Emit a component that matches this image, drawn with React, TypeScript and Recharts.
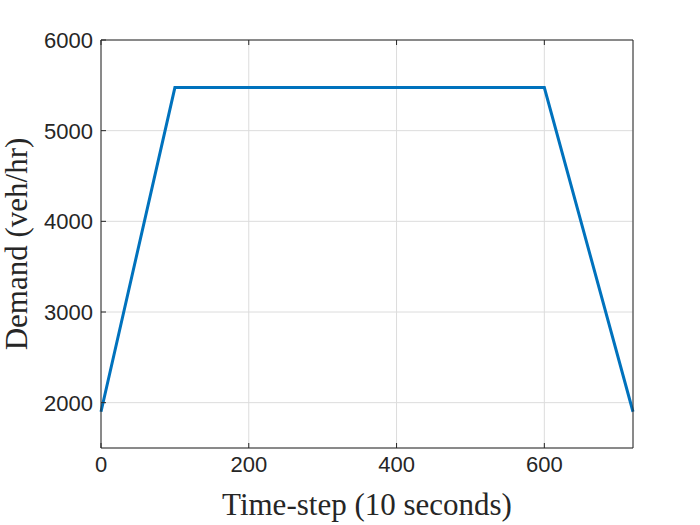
import { LineChart, Line, XAxis, YAxis, CartesianGrid } from "recharts";

const timeSteps = [0, 100, 600, 720];
const demand = [1900, 5475, 5475, 1900];
const xTicks = [0, 200, 400, 600];
const yTicks = [2000, 3000, 4000, 5000, 6000];

const data = timeSteps.map((t, i) => ({ t, demand: demand[i] }));

const axisColor = "#262626";
const tickFont = "'Liberation Sans', Arial, sans-serif";
const labelFont = "'Liberation Serif', 'DejaVu Serif', serif";

const XTick = (props: any) => {
  const { x, y, payload } = props;
  return (
    <g>
      <line x1={x} x2={x} y1={y - 8} y2={y - 13} stroke={axisColor} />
      <text x={x} y={y + 16} textAnchor="middle" fill={axisColor} fontSize={22} fontFamily={tickFont}>
        {payload.value}
      </text>
    </g>
  );
};

const YTick = (props: any) => {
  const { x, y, payload } = props;
  return (
    <g>
      <line x1={x + 8} x2={x + 13} y1={y} y2={y} stroke={axisColor} />
      <text x={x} y={y + 8} textAnchor="end" fill={axisColor} fontSize={22} fontFamily={tickFont}>
        {payload.value}
      </text>
    </g>
  );
};

const TopTick = (props: any) => {
  const { x, y } = props;
  return <line x1={x} x2={x} y1={y + 8} y2={y + 13} stroke={axisColor} />;
};

const RightTick = (props: any) => {
  const { x, y } = props;
  return <line x1={x - 8} x2={x - 13} y1={y} y2={y} stroke={axisColor} />;
};

export default function App() {
  return (
    <div style={{ position: "absolute", left: 0, top: 0, width: 700, height: 525, background: "#fff" }}>
      <LineChart width={700} height={525} data={data} margin={{ top: 0, right: 7, bottom: 0, left: 41 }}>
        <CartesianGrid xAxisId="b" yAxisId="l" stroke="#dcdcdc" />
        <XAxis
          xAxisId="b"
          dataKey="t"
          type="number"
          domain={[0, 720]}
          ticks={xTicks}
          height={77}
          tickSize={0}
          tickMargin={8}
          tick={<XTick />}
          axisLine={{ stroke: axisColor }}
          tickLine={false}
          label={{
            value: "Time-step (10 seconds)",
            position: "insideBottom",
            offset: 10,
            fill: axisColor,
            fontSize: 31,
            fontFamily: labelFont,
          }}
        />
        <XAxis
          xAxisId="t"
          orientation="top"
          dataKey="t"
          type="number"
          domain={[0, 720]}
          ticks={xTicks}
          height={40}
          tickSize={0}
          tickMargin={8}
          tick={<TopTick />}
          axisLine={{ stroke: axisColor }}
          tickLine={false}
        />
        <YAxis
          yAxisId="l"
          type="number"
          domain={[1500, 6000]}
          ticks={yTicks}
          width={60}
          tickSize={0}
          tickMargin={8}
          tick={<YTick />}
          axisLine={{ stroke: axisColor }}
          tickLine={false}
          label={{
            value: "Demand (veh/hr)",
            angle: -90,
            position: "insideLeft",
            offset: -25,
            style: { textAnchor: "middle" },
            fill: axisColor,
            fontSize: 31,
            fontFamily: labelFont,
          }}
        />
        <YAxis
          yAxisId="r"
          orientation="right"
          type="number"
          domain={[1500, 6000]}
          ticks={yTicks}
          width={60}
          tickSize={0}
          tickMargin={8}
          tick={<RightTick />}
          axisLine={{ stroke: axisColor }}
          tickLine={false}
        />
        <Line
          xAxisId="b"
          yAxisId="l"
          type="linear"
          dataKey="demand"
          stroke="#0072BD"
          strokeWidth={3}
          dot={false}
          isAnimationActive={false}
        />
      </LineChart>
    </div>
  );
}
